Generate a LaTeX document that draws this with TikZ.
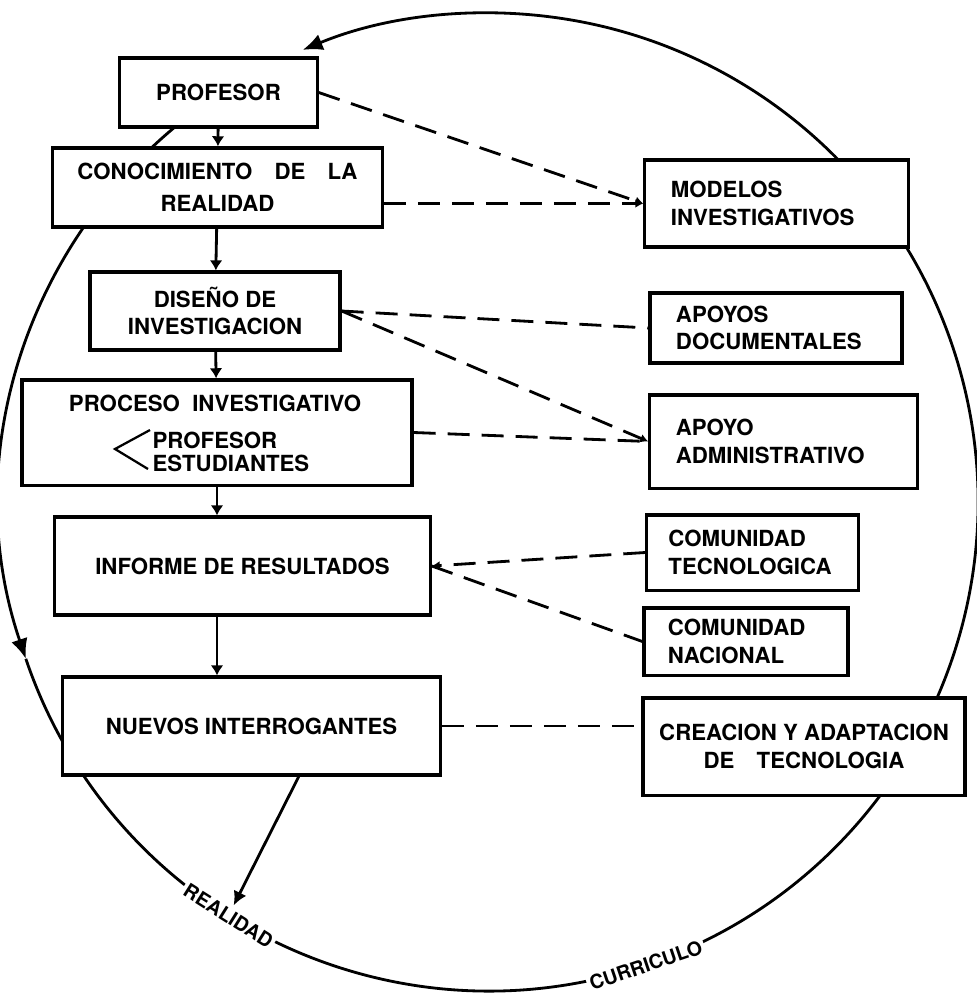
\documentclass[tikz,border=0pt]{standalone}
\usepackage{fontspec}
\setmainfont{TeX Gyre Heros}
\usetikzlibrary{arrows.meta}

\begin{document}
\begin{tikzpicture}[x=0.025cm, y=-0.025cm, line width=2pt]
\tikzstyle{every node}=[rectangle,draw,fill=white,line width=2.3pt,align=center,
  font=\bfseries\fontsize{15.8}{19.5}\selectfont];
\tikzstyle{side}=[align=left];
\tikzstyle{txt}=[draw=none,fill=none];
\tikzstyle{tag}=[draw=none,inner sep=2pt,font=\bfseries\fontsize{14}{16}\selectfont];
\tikzstyle{flow}=[-{Latex[length=0.25cm,width=0.32cm]}];
\tikzstyle{ringarrow}=[-{Latex[length=0.5cm,width=0.42cm]}];
\tikzstyle{link}=[dash pattern=on 0.55cm off 0.3cm];
\tikzstyle{linkto}=[link,-{Latex[length=0.2cm,width=0.22cm]}];

\useasboundingbox (0,0) rectangle (976,994);

% ciclo externo: curriculo - realidad
\coordinate (C) at (489,502);
\draw[ringarrow] ([shift={(71.3:489)}]C) arc[start angle=71.3, end angle=-112.4, radius=489];
\draw[ringarrow] ([shift={(-115:489)}]C) arc[start angle=-115, end angle=-198.7, radius=489];
\draw ([shift={(-198.7:489)}]C) arc[start angle=-198.7, end angle=-288.7, radius=489];

\draw(218.5,92.5) node[minimum width=4.93cm, minimum height=1.73cm] (Profesor) {PROFESOR};
\draw(217.5,187.5) node[minimum width=8.23cm, minimum height=1.98cm] (Conocimiento) {CONOCIMIENTO\quad DE\quad LA\\[3pt]REALIDAD};
\draw(215,311) node[minimum width=6.25cm, minimum height=1.95cm] (Diseno) {DISEÑO DE\\INVESTIGACION};
\draw(217,432.5) node[minimum width=9.75cm, minimum height=2.63cm] (Proceso) {};
\draw(215,403) node[txt] (ProcesoTit) {PROCESO\ \ INVESTIGATIVO};
\draw(151,452) node[txt,anchor=west,align=left,inner sep=0pt,font=\bfseries\fontsize{15.8}{16.5}\selectfont] (Actores) {PROFESOR\\ESTUDIANTES};
\draw[line width=1.6pt] (150,430) -- (115,449) -- (148,469);
\draw(242.5,566) node[minimum width=9.38cm, minimum height=2.45cm] (Informe) {INFORME DE RESULTADOS};
\draw(251.5,726) node[minimum width=9.43cm, minimum height=2.45cm] (Nuevos) {NUEVOS INTERROGANTES};

\draw(776.5,203.5) node[side, minimum width=6.58cm, minimum height=2.18cm, text width=5.28cm] (Modelos) {MODELOS\\INVESTIGATIVOS};
\draw(776,328) node[side, minimum width=6.3cm, minimum height=1.75cm, text width=5cm] (ApoyosDoc) {APOYOS\\DOCUMENTALES};
\draw(783.5,441.5) node[side, minimum width=6.68cm, minimum height=2.33cm, text width=5.38cm] (ApoyoAdm) {APOYO\\ADMINISTRATIVO};
\draw(752.5,552.5) node[side, minimum width=5.28cm, minimum height=1.88cm, text width=4.2cm] (ComTec) {COMUNIDAD\\TECNOLOGICA};
\draw(746,641.5) node[side, minimum width=5.1cm, minimum height=1.68cm, text width=3.9cm] (ComNac) {COMUNIDAD\\NACIONAL};
\draw(804,746.5) node[minimum width=8.05cm, minimum height=2.43cm] (Creacion) {CREACION Y ADAPTACION\\DE\quad TECNOLOGIA};

\draw(228.4,915.8) node[tag,rotate=-32.2] (Realidad) {REALIDAD};
\draw(645.8,965.2) node[tag,rotate=18.7] (Curriculo) {CURRICULO};

\draw[flow] (Profesor) -- (Conocimiento);
\draw[flow] (Conocimiento) -- (Diseno);
\draw[flow] (Diseno) -- (Proceso);
\draw[flow] (Proceso.south) -- (Proceso.south |- Informe.north);
\draw[flow] (Informe.south -| Proceso) -- (Nuevos.north -| Proceso);
\draw[-{Latex[length=0.35cm,width=0.35cm]}] (Nuevos.-47) -- (Realidad);

\draw[linkto] (Profesor.east) -- (Modelos.west);
\draw[linkto] (Conocimiento.east |- Modelos.west) -- (Modelos.west);
\draw[link] (Diseno.east) -- (ApoyosDoc.west);
\draw[linkto] (Diseno.east) -- (ApoyoAdm.west);
\draw[link] (Proceso.east) -- (ApoyoAdm.west);
\draw[linkto] (ComTec.west) -- (Informe.east);
\draw[link] (Informe.east) -- (ComNac.west);
\draw[link] (Nuevos.east) -- (Nuevos.east -| Creacion.west);
\end{tikzpicture}
\end{document}
